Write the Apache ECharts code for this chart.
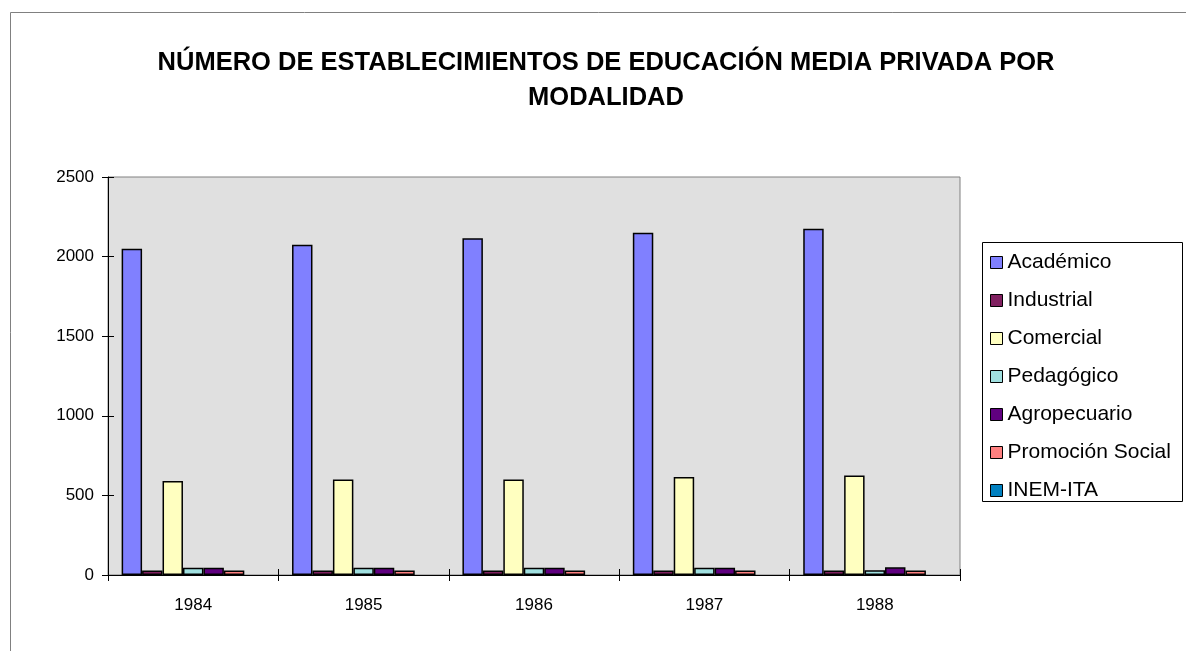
<!DOCTYPE html>
<html>
<head>
<meta charset="utf-8">
<script src="https://cdn.jsdelivr.net/npm/echarts@6/dist/echarts.min.js"></script>
<style>
html,body{margin:0;padding:0;background:#fff;}
#c{width:1186px;height:651px;}
</style>
</head>
<body>
<div id="c"></div>
<script>
var years = ['1984', '1985', '1986', '1987', '1988'];
var yTicks = [0, 500, 1000, 1500, 2000, 2500];
var academico = [2050, 2075, 2115, 2150, 2175];
var industrial = [28, 28, 28, 28, 28];
var comercial = [590, 600, 600, 615, 625];
var pedagogico = [45, 45, 45, 45, 30];
var agropecuario = [45, 45, 45, 45, 48];
var promocion = [28, 28, 28, 28, 28];
var inemIta = [null, null, null, null, null];

var seriesNames = ['Académico', 'Industrial', 'Comercial', 'Pedagógico', 'Agropecuario', 'Promoción Social', 'INEM-ITA'];
var seriesData = [academico, industrial, comercial, pedagogico, agropecuario, promocion, inemIta];
var colors = ['#8080FF', '#802060', '#FFFFC0', '#A0E0E0', '#600080', '#FF8080', '#0080C0'];

var chart = echarts.init(document.getElementById('c'));
var font = 'Liberation Sans, Arial, sans-serif';

var series = seriesNames.map(function (n, i) {
  return {
    name: n,
    type: 'bar',
    data: seriesData[i],
    barGap: '0%',
    barCategoryGap: '16%',
    itemStyle: { color: colors[i], borderColor: '#000', borderWidth: 1.5 },
    emphasis: { disabled: true }
  };
});

chart.setOption({
  animation: false,
  textStyle: { fontFamily: font },
  title: {
    text: 'NÚMERO DE ESTABLECIMIENTOS DE EDUCACIÓN MEDIA PRIVADA POR\nMODALIDAD',
    left: 601,
    textAlign: 'center',
    top: 40,
    textStyle: { fontFamily: font, fontSize: 25.5, fontWeight: 'bold', color: '#000', lineHeight: 35 }
  },
  graphic: [
    { type: 'rect', shape: { x: 10.5, y: 12.5, width: 1300, height: 800 }, style: { fill: 'none', stroke: '#808080', lineWidth: 1 }, z: -10, silent: true },
    { type: 'rect', shape: { x: 982.5, y: 242.5, width: 200, height: 259 }, style: { fill: '#fff', stroke: '#000', lineWidth: 1 }, z: -5, silent: true }
  ],
  legend: {
    orient: 'vertical',
    left: 985,
    top: 247,
    itemWidth: 12,
    itemHeight: 12,
    itemGap: 17,
    icon: 'rect',
    data: seriesNames,
    selectedMode: false,
    itemStyle: { borderColor: '#000', borderWidth: 1 },
    textStyle: { fontFamily: font, fontSize: 21, color: '#000', lineHeight: 21 }
  },
  grid: {
    left: 108, right: 226, top: 177, bottom: 76,
    show: true, backgroundColor: '#E0E0E0', borderColor: '#808080', borderWidth: 1
  },
  xAxis: [{
    type: 'category',
    data: years,
    axisLine: { lineStyle: { color: '#000', width: 1 } },
    axisTick: { show: true, length: 6, lineStyle: { color: '#000' } },
    axisLabel: { fontFamily: font, fontSize: 17, color: '#000', margin: 22 },
    splitLine: { show: false }
  }, {
    type: 'category',
    data: years,
    position: 'bottom',
    axisLine: { show: false },
    axisTick: { show: true, inside: true, length: 6, lineStyle: { color: '#000' } },
    axisLabel: { show: false },
    splitLine: { show: false }
  }],
  yAxis: [{
    type: 'value',
    min: yTicks[0],
    max: yTicks[yTicks.length - 1],
    interval: 500,
    axisLine: { show: true, lineStyle: { color: '#000', width: 1 } },
    axisTick: { show: true, length: 6, lineStyle: { color: '#000' } },
    axisLabel: { fontFamily: font, fontSize: 17, color: '#000', margin: 14, formatter: function (v) { return String(v); } },
    splitLine: { show: false }
  }, {
    type: 'value',
    position: 'left',
    min: yTicks[0],
    max: yTicks[yTicks.length - 1],
    interval: 500,
    axisLine: { show: false },
    axisTick: { show: true, inside: true, length: 6, lineStyle: { color: '#000' } },
    axisLabel: { show: false },
    splitLine: { show: false }
  }],
  series: series
});
</script>
</body>
</html>
